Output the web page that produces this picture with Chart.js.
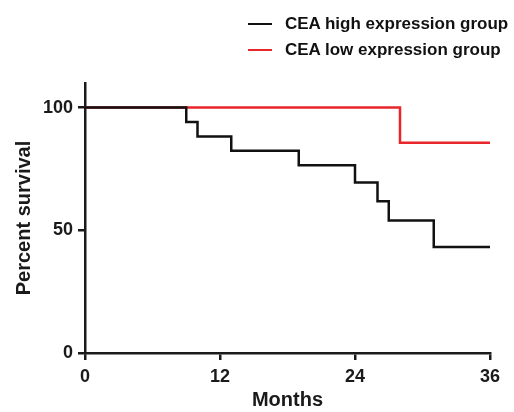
<!DOCTYPE html>
<html>
<head>
<meta charset="utf-8">
<script src="https://cdn.jsdelivr.net/npm/chart.js@4/dist/chart.umd.min.js"></script>
<style>
  html, body { margin: 0; padding: 0; background: #fff; }
  #wrap { position: relative; width: 514px; height: 412px; }
  canvas { display: block; }
  .leg { position: absolute; left: 248px; font: bold 17px "Liberation Sans", Arial, sans-serif; color: #111; white-space: nowrap; }
  .leg i { display: inline-block; width: 24px; height: 2px; vertical-align: middle; margin-right: 13px; position: relative; top: -1px; }
</style>
</head>
<body>
<div id="wrap">
  <canvas id="km" width="514" height="412"></canvas>
  <div class="leg" style="top:14px"><i style="background:#111"></i>CEA high expression group</div>
  <div class="leg" style="top:40px"><i style="background:#e8262b"></i>CEA low expression group</div>
</div>
<script>
// survival curves (months, percent)
const highMonths = [0, 9, 10, 13, 19, 24, 26, 27, 31, 36];
const highSurv = [100, 94.1, 88.2, 82.4, 76.5, 69.5, 61.8, 54.0, 43.2, 43.2];
const lowMonths = [0, 28, 36];
const lowSurv = [100, 85.7, 85.7];
const xTicks = [0, 12, 24, 36];
const yTicks = [0, 50, 100];

function pts(xs, ys) {
  return xs.map((x, i) => ({ x, y: ys[i] }));
}

const font = { family: '"Liberation Sans", Arial, sans-serif', weight: 'bold' };

new Chart(document.getElementById('km').getContext('2d'), {
  type: 'line',
  data: {
    datasets: [
      { label: 'CEA high expression group', data: pts(highMonths, highSurv), borderColor: '#111', borderWidth: 2.5, stepped: true, pointRadius: 0, fill: false },
      { label: 'CEA low expression group', data: pts(lowMonths, lowSurv), borderColor: '#e8262b', borderWidth: 2.5, stepped: true, pointRadius: 0, fill: false }
    ]
  },
  options: {
    responsive: false,
    animation: false,
    layout: { padding: { top: 83, right: 24, left: 0, bottom: 0 } },
    plugins: { legend: { display: false }, tooltip: { enabled: false } },
    scales: {
      x: {
        type: 'linear', min: 0, max: 36,
        afterBuildTicks: s => { s.ticks = xTicks.map(v => ({ value: v })); },
        afterFit: s => { s.height = 59; },
        border: { color: '#1a1a1a', width: 2.5 },
        grid: { drawOnChartArea: false, color: '#1a1a1a', lineWidth: 2.5, tickLength: 7 },
        ticks: { color: '#1a1a1a', padding: 6, maxRotation: 0, font: { ...font, size: 18 } },
        title: { display: true, text: 'Months', color: '#1a1a1a', padding: { top: 3, bottom: 0 }, font: { ...font, size: 20 } }
      },
      y: {
        min: 0, max: 110,
        afterBuildTicks: s => { s.ticks = yTicks.map(v => ({ value: v })); },
        afterFit: s => { s.width = 85; },
        border: { color: '#1a1a1a', width: 2.5 },
        grid: { drawOnChartArea: false, color: '#1a1a1a', lineWidth: 2.5, tickLength: 7 },
        ticks: { color: '#1a1a1a', padding: 5, font: { ...font, size: 18 } },
        title: { display: true, text: 'Percent survival', color: '#1a1a1a', padding: { top: 12, bottom: 4 }, font: { ...font, size: 20 } }
      }
    }
  }
});
</script>
</body>
</html>
